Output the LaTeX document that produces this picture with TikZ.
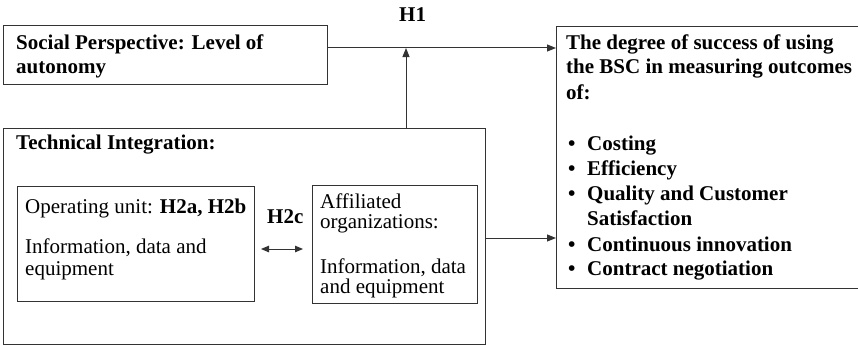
\documentclass[tikz,border=0pt]{standalone}
\usepackage{fontspec}
\setmainfont{Liberation Serif}
\usetikzlibrary{arrows.meta}
\begin{document}
\begin{tikzpicture}[x=1pt,y=-1pt,
  box/.style={draw=black!80, line width=1pt, inner sep=0pt, outer sep=0pt, anchor=north west},
  txt/.style={anchor=base west, inner sep=0pt, text=black, font=\fontsize{21}{25}\selectfont},
  btxt/.style={txt, font=\fontsize{21}{25}\selectfont\bfseries},
  conn/.style={draw=black!80, line width=1pt, -{Triangle[length=9pt,width=7pt]}},
  both/.style={draw=black!80, line width=1pt, {Triangle[length=8pt,width=6.5pt]}-{Triangle[length=8pt,width=6.5pt]}},
  item/.style={btxt},
]
\useasboundingbox (0,0) rectangle (858,345);
\clip (0,0) rectangle (858,345);
\fill[white] (0,0) rectangle (858,345);

% boxes
\node[box, minimum width=324pt, minimum height=58pt]  (soc)  at (3,26)   {};
\node[box, minimum width=482pt, minimum height=216pt] (tech) at (3,128)  {};
\node[box, minimum width=237pt, minimum height=115pt] (op)   at (17,186) {};
\node[box, minimum width=165pt, minimum height=118pt] (aff)  at (312,185) {};
\node[box, minimum width=344pt, minimum height=261pt] (res)  at (556,27) {};

% texts
\node[btxt] (h1) at (399,22) {H1};
\node[btxt] (soc1) at (16,49) {Social Perspective: Level of};
\node[btxt] (soc2) at (16,73) {autonomy};
\node[btxt] (tech1) at (16,149) {Technical Integration:};

\node[txt] (op1) at (25,213) {Operating unit: \textbf{H2a, H2b}};
\node[txt] (op2) at (25,253) {Information, data and};
\node[txt] (op3) at (25,275) {equipment};

\node[btxt] (h2c) at (267,223) {H2c};

\node[txt] (aff1) at (320,208) {Affiliated};
\node[txt] (aff2) at (320,228) {organizations:};
\node[txt] (aff3) at (320,273) {Information, data};
\node[txt] (aff4) at (320,293) {and equipment};

\node[btxt] (res1) at (566,49) {The degree of success of using};
\node[btxt] (res2) at (566,74) {the BSC in measuring outcomes};
\node[btxt] (res3) at (566,99) {of:};
\newcommand{\bul}{\makebox[21pt][l]{\hspace*{2pt}\textbullet}}
\node[item] (it1) at (566,150) {\bul Costing};
\node[item] (it2) at (566,175) {\bul Efficiency};
\node[item] (it3) at (566,200) {\bul Quality and Customer};
\node[item] (it3b) at (587,225) {Satisfaction};
\node[item] (it4) at (566,251) {\bul Continuous innovation};
\node[item] (it5) at (566,275) {\bul Contract negotiation};

% connector levels
\coordinate (yH1) at (0,48);
\coordinate (xH1) at (406,0);
\coordinate (yTech) at (0,238);
\coordinate (yH2c) at (0,249);

% connectors
\draw[conn] (soc.east |- yH1) -- (res.west |- yH1);
\draw[conn] (xH1 |- tech.north) -- (xH1 |- yH1);
\draw[conn] (tech.east |- yTech) -- (res.west |- yTech);
\draw[both, shorten <=7pt, shorten >=9pt] (op.east |- yH2c) -- (aff.west |- yH2c);
\end{tikzpicture}
\end{document}
